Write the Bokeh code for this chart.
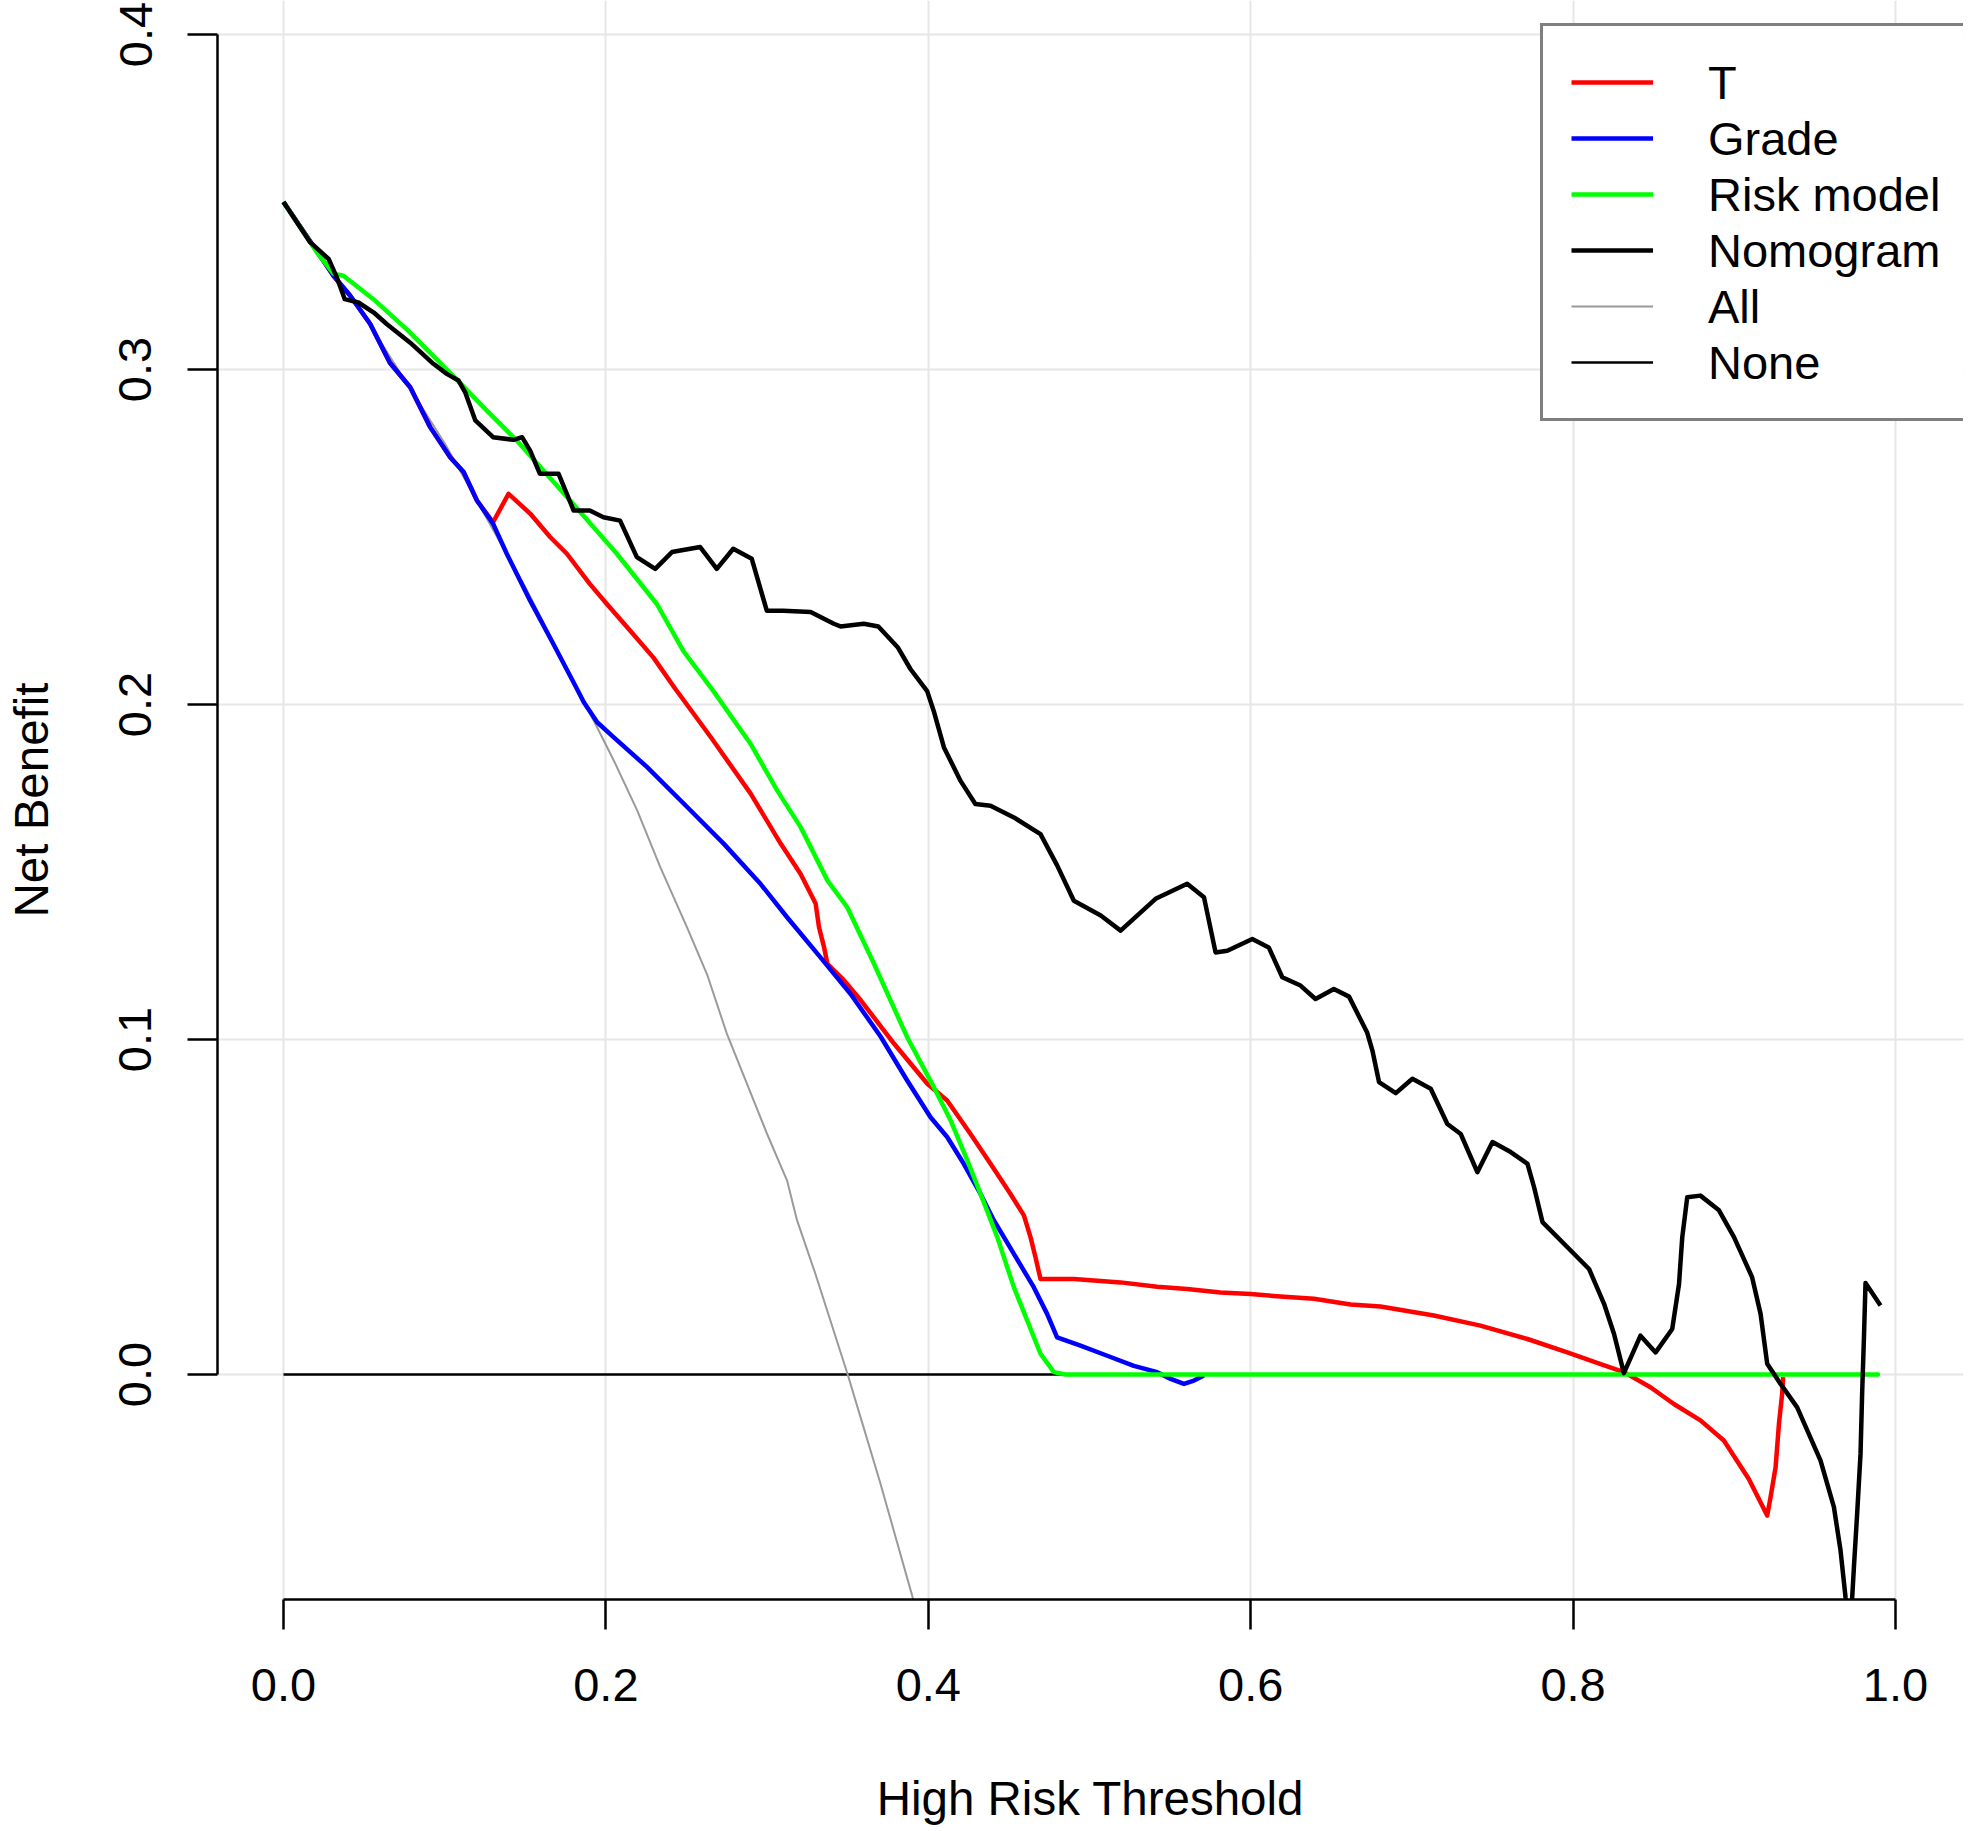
import math
from bokeh.plotting import figure
from bokeh.models import Range1d, FixedTicker, Legend, LegendItem, NumeralTickFormatter
from bokeh.embed import file_html
from bokeh.resources import INLINE

# ---------------- data ----------------
x_ticks = [0.0, 0.2, 0.4, 0.6, 0.8, 1.0]
y_ticks = [0.0, 0.1, 0.2, 0.3, 0.4]
legend_labels = ["T", "Grade", "Risk model", "Nomogram", "All", "None"]

t_x = [0.0, 0.031, 0.0414, 0.0538, 0.066, 0.0786, 0.091, 0.1034, 0.1117, 0.120, 0.130,
       0.1396, 0.153, 0.1654, 0.1758, 0.190, 0.2006, 0.217, 0.2295, 0.243, 0.2484, 0.265,
       0.2898, 0.3084, 0.3208, 0.3301, 0.3322, 0.3353, 0.3374, 0.3467, 0.3581, 0.3787,
       0.3994, 0.4117, 0.4262, 0.4386, 0.451, 0.4593, 0.4634, 0.4665, 0.4696, 0.4903,
       0.5193, 0.542, 0.5606, 0.5813, 0.5999, 0.6185, 0.6392, 0.662, 0.6805, 0.7136,
       0.7425, 0.7717, 0.7964, 0.8171, 0.8315, 0.848, 0.8625, 0.879, 0.8935, 0.909,
       0.9204, 0.9225, 0.9256, 0.9277, 0.9297, 0.9303]
t_nb = [0.350, 0.328, 0.322, 0.3136, 0.302, 0.2947, 0.2828, 0.2738, 0.2694, 0.2609, 0.2544,
        0.2629, 0.257, 0.250, 0.245, 0.236, 0.230, 0.221, 0.214, 0.2047, 0.2012, 0.1903,
        0.1734, 0.1585, 0.1494, 0.1406, 0.1335, 0.1276, 0.1226, 0.1182, 0.1117, 0.0988,
        0.0868, 0.0818, 0.0718, 0.0629, 0.0539, 0.0475, 0.041, 0.035, 0.0285, 0.0285,
        0.0275, 0.0262, 0.0255, 0.0245, 0.024, 0.0233, 0.0226, 0.0209, 0.0203, 0.0176,
        0.0146, 0.0106, 0.0066, 0.0031, 0.0007, -0.0038, -0.0088, -0.0137, -0.0197, -0.0312,
        -0.0421, -0.0366, -0.0277, -0.0147, -0.0057, -0.0008]

grade_x = [0.0, 0.031, 0.0414, 0.0538, 0.066, 0.0786, 0.091, 0.1034, 0.1117, 0.120, 0.130,
           0.1385, 0.153, 0.1675, 0.182, 0.1863, 0.1946, 0.2049, 0.2256, 0.2504, 0.2732,
           0.296, 0.3124, 0.3331, 0.3518, 0.3704, 0.387, 0.4014, 0.4117, 0.422, 0.4324,
           0.4407, 0.4531, 0.4655, 0.4737, 0.4799, 0.4944, 0.511, 0.5275, 0.542, 0.5503,
           0.5586, 0.5648, 0.571]
grade_nb = [0.350, 0.328, 0.322, 0.3136, 0.302, 0.2947, 0.2828, 0.2738, 0.2694, 0.2609, 0.254,
            0.245, 0.231, 0.218, 0.2047, 0.2007, 0.1947, 0.1902, 0.1813, 0.1694, 0.1584,
            0.1464, 0.1365, 0.1245, 0.1136, 0.1009, 0.0877, 0.0768, 0.0709, 0.0629, 0.0539,
            0.046, 0.036, 0.026, 0.0181, 0.0111, 0.0086, 0.0056, 0.0026, 0.0007, -0.0013,
            -0.0028, -0.0018, -0.0003]

risk_x = [0.0, 0.0207, 0.031, 0.0372, 0.0558, 0.0765, 0.1075, 0.126, 0.1447, 0.1778, 0.2068,
          0.2316, 0.248, 0.2667, 0.2897, 0.3063, 0.3208, 0.3374, 0.3498, 0.3663, 0.387,
          0.4035, 0.4139, 0.4242, 0.4324, 0.4428, 0.4531, 0.4614, 0.4696, 0.4779, 0.485, 0.99]
risk_nb = [0.350, 0.335, 0.3286, 0.328, 0.321, 0.312, 0.297, 0.2878, 0.2788, 0.2609, 0.245,
           0.230, 0.216, 0.204, 0.1883, 0.1743, 0.1634, 0.1475, 0.1394, 0.1226, 0.1006,
           0.0857, 0.0758, 0.0639, 0.0539, 0.041, 0.026, 0.0161, 0.0062, 0.0007, 0.0, 0.0]

nomo_x = [0.0, 0.0165, 0.028, 0.033, 0.038, 0.0465, 0.056, 0.064, 0.0786, 0.093, 0.1013,
          0.1086, 0.1127, 0.119, 0.130, 0.1427, 0.148, 0.153, 0.159, 0.1706, 0.180, 0.190,
          0.1985, 0.2088, 0.2192, 0.2306, 0.241, 0.2585, 0.2688, 0.279, 0.2905, 0.2998,
          0.310, 0.327, 0.3414, 0.3455, 0.360, 0.369, 0.381, 0.3889, 0.3993, 0.4034, 0.4097,
          0.420, 0.4292, 0.4386, 0.4531, 0.4696, 0.480, 0.4903, 0.507, 0.5193, 0.541, 0.5606,
          0.571, 0.5782, 0.5855, 0.601, 0.6112, 0.6196, 0.6309, 0.6402, 0.6516, 0.661,
          0.6723, 0.6755, 0.6796, 0.690, 0.7003, 0.7117, 0.722, 0.7303, 0.7406, 0.750,
          0.7613, 0.7717, 0.7758, 0.781, 0.8099, 0.8192, 0.8254, 0.8315, 0.8418, 0.8512,
          0.8615, 0.8657, 0.8677, 0.8708, 0.879, 0.8905, 0.8998, 0.911, 0.9163, 0.9204,
          0.9287, 0.939, 0.9535, 0.9618, 0.9659, 0.969, 0.9705, 0.9725, 0.9742, 0.9762,
          0.9783, 0.9793, 0.9804, 0.9814, 0.9907]
nomo_nb = [0.350, 0.338, 0.333, 0.3276, 0.321, 0.320, 0.317, 0.3136, 0.308, 0.3017, 0.2987,
           0.2967, 0.2932, 0.2848, 0.2798, 0.279, 0.2798, 0.2758, 0.2689, 0.2689, 0.2579,
           0.2579, 0.2559, 0.2549, 0.244, 0.2405, 0.2455, 0.247, 0.2405, 0.2465, 0.2435,
           0.228, 0.228, 0.2276, 0.2241, 0.2233, 0.2241, 0.2233, 0.2171, 0.2106, 0.204,
           0.198, 0.1872, 0.1772, 0.1703, 0.1698, 0.1663, 0.1613, 0.1519, 0.1414, 0.137,
           0.1325, 0.142, 0.1465, 0.1425, 0.126, 0.1265, 0.130, 0.1275, 0.1186, 0.1161,
           0.1121, 0.1151, 0.1128, 0.102, 0.0967, 0.0873, 0.084, 0.0883, 0.0853, 0.0748,
           0.0718, 0.0604, 0.0694, 0.0664, 0.0629, 0.0559, 0.0455, 0.0315, 0.0211, 0.0121,
           0.0004, 0.0116, 0.0066, 0.0136, 0.027, 0.0409, 0.0529, 0.0534, 0.049, 0.041,
           0.0291, 0.0181, 0.0032, -0.0028, -0.0098, -0.0257, -0.0396, -0.0525, -0.0665,
           -0.072, -0.072, -0.0575, -0.0416, -0.0237, -0.0057, 0.0107, 0.0273, 0.0206]

all_x = [0.0, 0.05, 0.10, 0.15, 0.1935, 0.2049, 0.2194, 0.2338, 0.2504, 0.2628, 0.2752,
         0.2876, 0.300, 0.3124, 0.3186, 0.33, 0.34, 0.35, 0.36, 0.37, 0.38, 0.39, 0.393]
all_nb = [0.350, 0.316, 0.278, 0.235, 0.1942, 0.1833, 0.1684, 0.1514, 0.1334, 0.1194, 0.1015,
          0.0867, 0.0718, 0.0579, 0.046, 0.030, 0.015, 0.0, -0.016, -0.032, -0.049, -0.066,
          -0.072]

none_x = [0.0, 0.99]
none_nb = [0.0, 0.0]

# ---------------- figure ----------------
FONT = "Liberation Sans"

p = figure(width=1965, height=1827, output_backend="svg", toolbar_location=None,
           x_range=Range1d(-0.04094, 1.04218), y_range=Range1d(-0.06716, 0.41015),
           min_border_left=217, min_border_right=2, min_border_top=0,
           min_border_bottom=228)
p.outline_line_color = None
p.background_fill_color = "white"
p.border_fill_color = "white"

# grid
p.xgrid.ticker = FixedTicker(ticks=x_ticks)
p.ygrid.ticker = FixedTicker(ticks=y_ticks)
for g in (p.xgrid, p.ygrid):
    g.grid_line_color = "#e6e6e6"
    g.grid_line_width = 2

# axes
xa = p.xaxis[0]
ya = p.yaxis[0]
xa.ticker = FixedTicker(ticks=x_ticks)
ya.ticker = FixedTicker(ticks=y_ticks)
xa.bounds = (0.0, 1.0)
ya.bounds = (0.0, 0.4)
xa.axis_label = "High Risk Threshold"
ya.axis_label = "Net Benefit"
for ax in (xa, ya):
    ax.formatter = NumeralTickFormatter(format="0.0")
    ax.axis_line_color = "black"
    ax.axis_line_width = 2.5
    ax.major_tick_line_color = "black"
    ax.major_tick_line_width = 2.5
    ax.major_tick_out = 30
    ax.major_tick_in = 0
    ax.minor_tick_line_color = None
    ax.major_label_text_font = FONT
    ax.major_label_text_font_size = "47px"
    ax.major_label_text_color = "black"
    ax.axis_label_text_font = FONT
    ax.axis_label_text_font_size = "47.5px"
    ax.axis_label_text_font_style = "normal"
    ax.axis_label_text_color = "black"
xa.major_label_standoff = 39
xa.axis_label_standoff = 68
ya.major_label_orientation = "vertical"
ya.major_label_standoff = 36
ya.axis_label_standoff = 59

# lines
r_none = p.line(none_x, none_nb, line_color="black", line_width=2.5)
r_all = p.line(all_x, all_nb, line_color="#9a9a9a", line_width=2)
r_t = p.line(t_x, t_nb, line_color="#ff0000", line_width=4.5, line_join="round")
r_grade = p.line(grade_x, grade_nb, line_color="#0000ff", line_width=4.5, line_join="round")
r_risk = p.line(risk_x, risk_nb, line_color="#00ff00", line_width=4.5, line_join="round")
r_nomo = p.line(nomo_x, nomo_nb, line_color="black", line_width=4.5, line_join="round")

renderers = [r_t, r_grade, r_risk, r_nomo, r_all, r_none]
legend = Legend(items=[LegendItem(label=lab, renderers=[r]) for lab, r in zip(legend_labels, renderers)],
                location=(1323, 1178), margin=0, padding=28, spacing=0,
                glyph_width=82, glyph_height=56, label_height=56, label_standoff=55,
                label_text_font=FONT, label_text_font_size="47px", label_text_color="black",
                border_line_color="black", border_line_width=3,
                background_fill_color="white", background_fill_alpha=1.0)
p.add_layout(legend)

open("out.html", "w").write(file_html(p, INLINE))
